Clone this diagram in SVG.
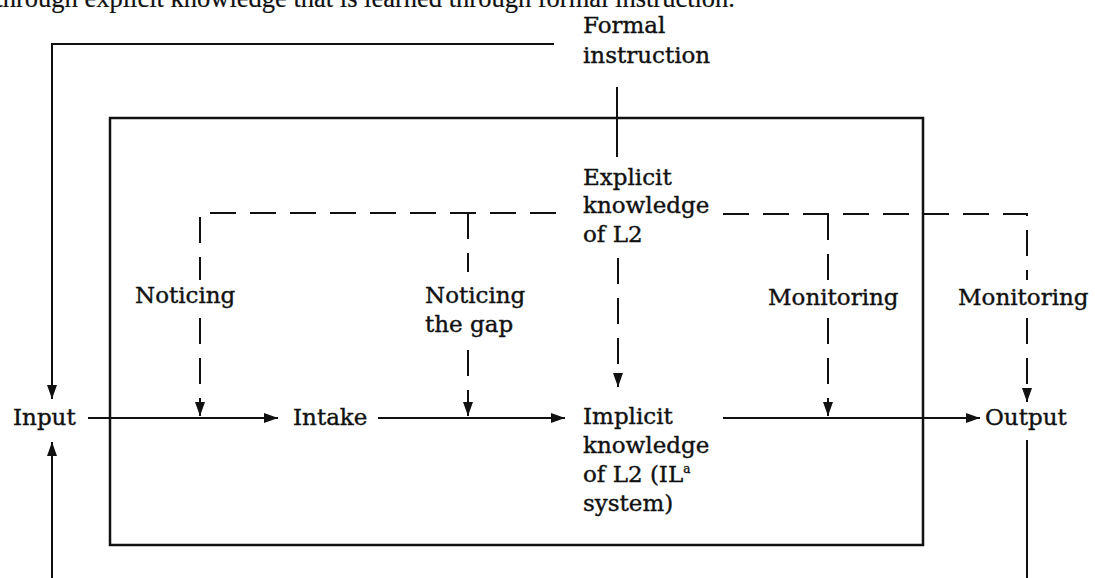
<svg xmlns="http://www.w3.org/2000/svg" width="1095" height="578" viewBox="0 0 1095 578">
<style>
text{font-family:"DejaVu Serif","Liberation Serif",serif;font-size:23px;fill:#111;stroke:#111;stroke-width:0.4}
.cap{font-family:"Liberation Serif",serif;font-size:26.5px;stroke-width:0.2}
.s{fill:none;stroke:#111;stroke-width:2}
.d{fill:none;stroke:#111;stroke-width:2;stroke-dasharray:26 14}
.box{fill:none;stroke:#111;stroke-width:2.5}
</style>
<defs>
<marker id="ah" viewBox="0 0 14 10" refX="14" refY="5" markerWidth="14" markerHeight="10" markerUnits="userSpaceOnUse" orient="auto">
<path d="M0,0 L14,5 L0,10 z" fill="#111"/>
</marker>
</defs>
<rect width="1095" height="578" fill="#fff"/>
<text class="cap" x="735" y="7" text-anchor="end">through explicit knowledge that is learned through formal instruction.</text>
<g id="box"><rect class="box" x="110" y="118" width="813" height="427"/></g>
<g id="connectors">
<path class="s" d="M554,44 H52 V399" marker-end="url(#ah)"/>
<path class="s" d="M52,578 V442" marker-end="url(#ah)"/>
<path class="s" d="M1027,440 V578"/>
<path class="s" d="M617,87 V157"/>
<path class="s" d="M88,418 H278" marker-end="url(#ah)"/>
<path class="s" d="M378,418 H565" marker-end="url(#ah)"/>
<path class="s" d="M723,418 H980" marker-end="url(#ah)"/>
<path class="d" d="M556,213 H200 V280"/>
<path class="d" d="M200,318 V416" marker-end="url(#ah)"/>
<path class="d" d="M468,213 V272"/>
<path class="d" d="M468,350 V416" marker-end="url(#ah)"/>
<path class="d" d="M618,258 V387" marker-end="url(#ah)"/>
<path class="d" d="M723,214 H1027 V280"/>
<path class="d" d="M828,214 V280"/>
<path class="d" d="M828,318 V416" marker-end="url(#ah)"/>
<path class="d" d="M1027,318 V402" marker-end="url(#ah)"/>
</g>
<g id="formal"><text x="583" y="33">Formal</text><text x="583" y="63">instruction</text></g>
<g id="explicit"><text x="583" y="185">Explicit</text><text x="583" y="213">knowledge</text><text x="583" y="242">of L2</text></g>
<g id="noticing"><text x="135" y="303">Noticing</text></g>
<g id="noticing-gap"><text x="425" y="303">Noticing</text><text x="425" y="332">the gap</text></g>
<g id="monitoring1"><text x="768" y="305">Monitoring</text></g>
<g id="monitoring2"><text x="958" y="305">Monitoring</text></g>
<g id="input"><text x="13" y="425">Input</text></g>
<g id="intake"><text x="293" y="425">Intake</text></g>
<g id="implicit"><text x="583" y="424">Implicit</text><text x="583" y="453">knowledge</text><text x="583" y="482">of L2 (IL<tspan dy="-9" font-size="12">a</tspan></text><text x="583" y="511">system)</text></g>
<g id="output"><text x="985" y="425">Output</text></g>
</svg>
